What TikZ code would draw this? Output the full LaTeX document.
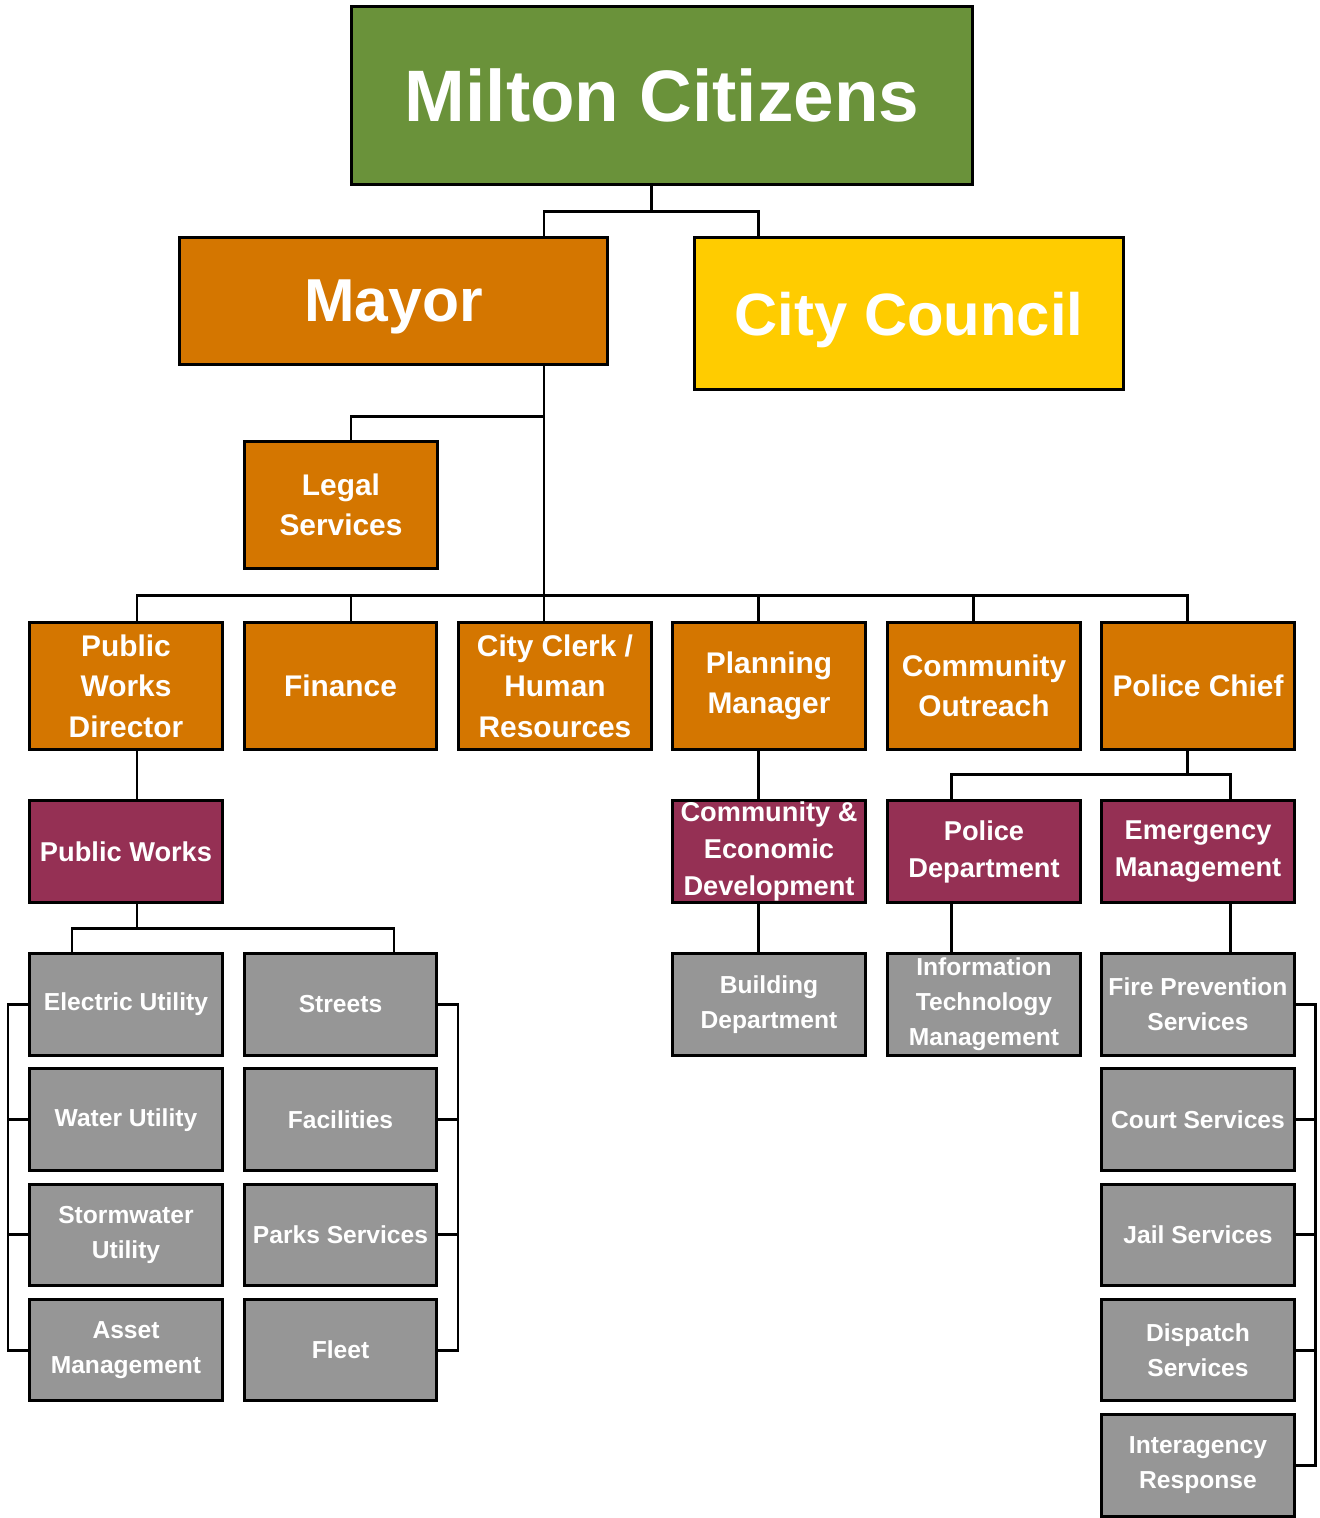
\documentclass[tikz,border=0pt]{standalone}
\usepackage{fontspec}
\setmainfont{Liberation Sans}
\usepackage{tikz}
\usetikzlibrary{positioning,calc}

\definecolor{citizengreen}{HTML}{6A923A}
\definecolor{officeorange}{HTML}{D47600}
\definecolor{counciljellow}{HTML}{FFCC00}
\definecolor{deptmaroon}{HTML}{953054}
\definecolor{unitgrey}{HTML}{969696}

\begin{document}
\begin{tikzpicture}[
    x=0.02cm, y=-0.02cm,
    orgbox/.style={draw=black, line width=1.7pt, text=white, align=center, inner sep=0pt},
    officebox/.style={orgbox, fill=officeorange, minimum width=3.85cm, minimum height=2.55cm, font=\bfseries\fontsize{17}{23}\selectfont},
    divbox/.style={orgbox, fill=deptmaroon, minimum width=3.85cm, minimum height=2.03cm, font=\bfseries\fontsize{15.5}{21}\selectfont},
    unitbox/.style={orgbox, fill=unitgrey, minimum width=3.85cm, minimum height=2.03cm, font=\bfseries\fontsize{14}{20}\selectfont},
    link/.style={draw=black, line width=1.7pt}
]
\useasboundingbox (0,0) rectangle (1319,1518);

% Top of the chart
\node[orgbox, fill=citizengreen, minimum width=12.44cm, minimum height=3.57cm, font=\bfseries\fontsize{41.5}{50}\selectfont] (citizens) at (662,95.5) {Milton Citizens};
\node[orgbox, fill=officeorange, minimum width=8.58cm, minimum height=2.55cm, text depth=0pt, font=\bfseries\fontsize{34.5}{42}\selectfont] (mayor) at (393.5,301) {Mayor};
\node[orgbox, fill=counciljellow, minimum width=8.57cm, minimum height=3.05cm, text depth=0pt, font=\bfseries\fontsize{34}{42}\selectfont] (council) at (909,313.7) {City Council};
\node[officebox] (legal) at (341,505) {Legal\\Services};

% Department heads
\node[officebox] (pwd) at (126,686) {Public\\Works\\Director};
\node[officebox] (fin) at (340.5,686) {Finance};
\node[officebox] (clerk) at (555,686) {City Clerk /\\Human\\Resources};
\node[officebox] (plan) at (769,686) {Planning\\Manager};
\node[officebox] (outreach) at (984,686) {Community\\Outreach};
\node[officebox] (chief) at (1198,686) {Police Chief};

% Divisions
\node[divbox] (pw) at (126,851.5) {Public Works};
\node[divbox] (ced) at (769,851.5) {Community \&\\Economic\\Development};
\node[divbox] (pd) at (984,851.5) {Police\\Department};
\node[divbox] (em) at (1198,851.5) {Emergency\\Management};

% Public works units
\node[unitbox] (elec) at (126,1004.5) {Electric Utility};
\node[unitbox] (water) at (126,1119.7) {Water Utility};
\node[unitbox] (storm) at (126,1234.9) {Stormwater\\Utility};
\node[unitbox] (asset) at (126,1350.1) {Asset\\Management};
\node[unitbox] (streets) at (340.5,1004.5) {Streets};
\node[unitbox] (facil) at (340.5,1119.7) {Facilities};
\node[unitbox] (parks) at (340.5,1234.9) {Parks Services};
\node[unitbox] (fleet) at (340.5,1350.1) {Fleet};

% Other units
\node[unitbox] (bldg) at (769,1004.5) {Building\\Department};
\node[unitbox] (itm) at (984,1004.5) {Information\\Technology\\Management};
\node[unitbox] (fire) at (1198,1004.5) {Fire Prevention\\Services};
\node[unitbox] (court) at (1198,1119.7) {Court Services};
\node[unitbox] (jail) at (1198,1234.9) {Jail Services};
\node[unitbox] (dispatch) at (1198,1350.1) {Dispatch\\Services};
\node[unitbox] (inter) at (1198,1465.3) {Interagency\\Response};

% Connectors
\draw[link] (citizens.south -| 651,0) -- (651,211.3);
\draw[link] (mayor.north -| 544,0) |- (758,211.3) -- (council.north -| 758,0);
\draw[link] (mayor.south -| 544,0) -- (544,595.3);
\draw[link] (legal.north -| 351,0) |- (544,416.7);
\draw[link] (pwd.north -| 137,0) |- (1187,595.3) -- (chief.north -| 1187,0);
\foreach \n/\x in {fin/351, clerk/544, plan/758, outreach/973}
    \draw[link] (\n.north -| \x,0) -- (\x,595.3);

% Public works branch
\draw[link] (pwd.south -| 137,0) -- (pw.north -| 137,0);
\draw[link] (pw.south -| 137,0) -- (137,928.7);
\draw[link] (elec.north -| 72,0) |- (394,928.7) -- (streets.north -| 394,0);
\draw[link] (elec.west) -| (8,1350.1) -- (asset.west);
\foreach \n in {water, storm}
    \draw[link] (\n.west) -- (\n.west -| 8,0);
\draw[link] (streets.east) -| (458,1350.1) -- (fleet.east);
\foreach \n in {facil, parks}
    \draw[link] (\n.east) -- (\n.east -| 458,0);

% Planning branch
\draw[link] (plan.south -| 758,0) -- (ced.north -| 758,0);
\draw[link] (ced.south -| 758,0) -- (bldg.north -| 758,0);

% Police branch
\draw[link] (chief.south -| 1187,0) -- (1187,774);
\draw[link] (pd.north -| 951,0) |- (1230,774) -- (em.north -| 1230,0);
\draw[link] (pd.south -| 951,0) -- (itm.north -| 951,0);
\draw[link] (em.south -| 1230,0) -- (fire.north -| 1230,0);
\draw[link] (fire.east) -| (1315.7,1465.3) -- (inter.east);
\foreach \n in {court, jail, dispatch}
    \draw[link] (\n.east) -- (\n.east -| 1315.7,0);

\end{tikzpicture}
\end{document}
